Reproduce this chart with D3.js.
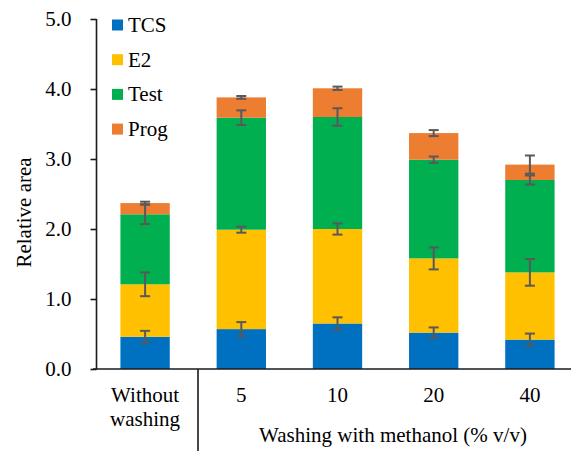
<!DOCTYPE html>
<html><head><meta charset="utf-8"><script src="https://cdn.jsdelivr.net/npm/d3@7"></script></head>
<body style="margin:0">
<svg id="chart" width="571" height="451" font-family="Liberation Serif"></svg>
<script>
// Categories (x axis) and series
const categories = ["Without washing", "5", "10", "20", "40"];
const seriesNames = ["TCS", "E2", "Test", "Prog"];
const seriesColors = ["#0070C0", "#FFC000", "#00B050", "#ED7D31"];

// Segment heights (relative area) per series
const tcs  = [0.46, 0.57, 0.65, 0.52, 0.42];
const e2   = [0.75, 1.42, 1.35, 1.06, 0.96];
const test = [1.00, 1.60, 1.60, 1.41, 1.32];
const prog = [0.16, 0.29, 0.41, 0.38, 0.22];

// Error bar half-widths per series
const tcsErr  = [0.085, 0.10, 0.088, 0.074, 0.086];
const e2Err   = [0.17, 0.043, 0.08, 0.157, 0.19];
const testErr = [0.14, 0.105, 0.125, 0.045, 0.065];
const progErr = [0.02, 0.02, 0.024, 0.043, 0.13];

const yTicks = [0, 1, 2, 3, 4, 5];
const groupTitle = "Washing with methanol (% v/v)";
const yTitle = "Relative area";

const FONT = "Liberation Serif";
const FS = 21;

const values = [tcs, e2, test, prog];
const errors = [tcsErr, e2Err, testErr, progErr];

const rows = categories.map((c, i) => {
  const r = { cat: c };
  seriesNames.forEach((s, k) => { r[s] = values[k][i]; });
  return r;
});

const svg = d3.select("#chart");
const W = 571, H = 451;
svg.append("rect").attr("width", W).attr("height", H).attr("fill", "#fff");

const y = d3.scaleLinear().domain([0, 5]).range([369, 19]);
const x = d3.scaleBand().domain(categories).range([97, 578])
  .paddingInner(0.487).paddingOuter(0.2435);

const layers = d3.stack().keys(seriesNames)(rows);

// Stacked bars
const g = svg.append("g");
layers.forEach((layer, k) => {
  g.append("g").selectAll("rect").data(layer).join("rect")
    .attr("x", d => x(d.data.cat))
    .attr("width", x.bandwidth())
    .attr("y", d => y(d[1]))
    .attr("height", d => y(d[0]) - y(d[1]))
    .attr("fill", seriesColors[k]);
});

// Error bars at the top of each segment
const capW = 10;
layers.forEach((layer, k) => {
  const eg = g.append("g").attr("stroke", "#595959").attr("stroke-width", 2).attr("fill", "none");
  layer.forEach((d, i) => {
    const cx = x(d.data.cat) + x.bandwidth() / 2;
    const e = errors[k][i];
    const y1 = y(d[1] + e), y2 = y(d[1] - e);
    eg.append("line").attr("x1", cx).attr("x2", cx).attr("y1", y1).attr("y2", y2);
    eg.append("line").attr("x1", cx - capW / 2).attr("x2", cx + capW / 2).attr("y1", y1).attr("y2", y1);
    eg.append("line").attr("x1", cx - capW / 2).attr("x2", cx + capW / 2).attr("y1", y2).attr("y2", y2);
  });
});

// Y axis
const yAxis = d3.axisLeft(y).tickValues(yTicks).tickFormat(d3.format(".1f"))
  .tickSize(6).tickPadding(19);
const ya = svg.append("g").attr("transform", "translate(96.5,0)").call(yAxis)
  .attr("font-family", FONT).attr("font-size", FS);
ya.selectAll("path, line").attr("stroke", "#1a1a1a").attr("stroke-width", 1.6);
ya.select(".domain").attr("d", `M0,${y(5)}V${y(0)}`);
ya.selectAll("text").attr("fill", "#000").attr("font-family", FONT);

// X axis baseline and group separator
svg.append("line").attr("x1", 93).attr("x2", 571).attr("y1", y(0)).attr("y2", y(0))
  .attr("stroke", "#1a1a1a").attr("stroke-width", 1.6);
svg.append("line").attr("x1", 198).attr("x2", 198).attr("y1", y(0)).attr("y2", H)
  .attr("stroke", "#1a1a1a").attr("stroke-width", 1.6);

// Category labels
const labelY = 401.7;
categories.forEach((c, i) => {
  const cx = x(c) + x.bandwidth() / 2;
  if (i === 0) {
    const t = svg.append("text").attr("font-family", FONT).attr("font-size", FS)
      .attr("x", cx).attr("y", labelY).attr("text-anchor", "middle");
    t.append("tspan").attr("x", cx).text("Without");
    t.append("tspan").attr("x", cx).attr("dy", 24.3).text("washing");
  } else {
    svg.append("text").attr("font-family", FONT).attr("font-size", FS)
      .attr("x", cx).attr("y", labelY).attr("text-anchor", "middle").text(c);
  }
});
svg.append("text").attr("font-family", FONT).attr("font-size", FS)
  .attr("x", 393).attr("y", 441.5).attr("text-anchor", "middle").text(groupTitle);

// Y title
svg.append("text").attr("font-family", FONT).attr("font-size", FS)
  .attr("transform", "translate(31,212.5) rotate(-90)")
  .attr("text-anchor", "middle").text(yTitle);

// Legend
seriesNames.forEach((s, k) => {
  const cy = 25 + k * 34.7;
  svg.append("rect").attr("x", 112).attr("y", cy - 5.5).attr("width", 11).attr("height", 11)
    .attr("fill", seriesColors[k]);
  svg.append("text").attr("font-family", FONT).attr("font-size", FS)
    .attr("x", 128).attr("y", cy + 7).text(s);
});
</script>
</body>
</html>
